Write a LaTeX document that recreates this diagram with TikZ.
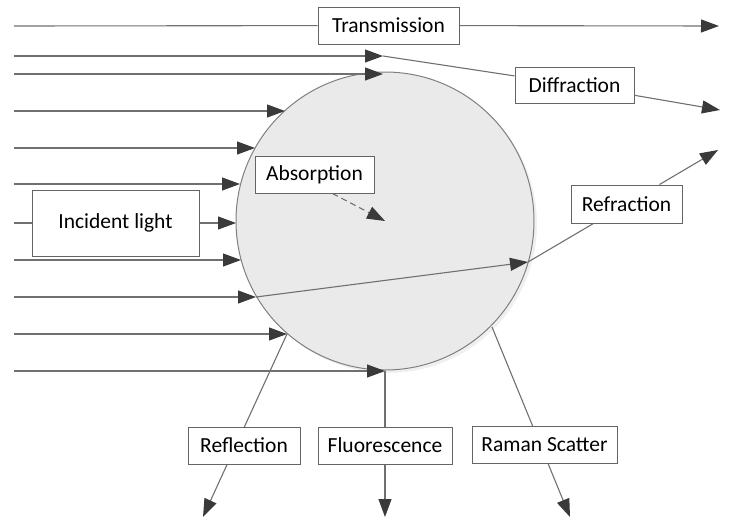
\documentclass[tikz,border=0pt]{standalone}
\usepackage{fontspec}
\setmainfont{Carlito}
\usetikzlibrary{arrows.meta}

\pgfdeclarelayer{back}
\pgfdeclarelayer{rays}
\pgfsetlayers{back,rays,main}

\definecolor{raygray}{RGB}{112,112,112}
\definecolor{tipgray}{RGB}{58,58,58}
\definecolor{dropgray}{RGB}{234,234,234}
\definecolor{edgegray}{RGB}{128,128,128}
\definecolor{boxgray}{RGB}{100,100,100}

\tikzset{
  ray/.style={draw=raygray, line width=1.1pt},
  rayhead/.style={ray, -{Triangle[length=18pt,width=13pt,color=tipgray]}},
  labelbox/.style={draw=boxgray, line width=1pt, fill=white, inner sep=0pt,
    minimum height=37pt, font=\fontsize{21.5}{25}\selectfont},
}

\begin{document}
\begin{tikzpicture}[x=1pt, y=-1pt]
          \useasboundingbox (0,0) rectangle (732,531);

          \begin{pgfonlayer}{back}
            \fill[black!6] (388,224) circle [radius=149];
            \node[circle, draw=edgegray, line width=1pt, fill=dropgray,
              minimum size=298pt, inner sep=0pt] (drop) at (385,221) {};
          \end{pgfonlayer}

          \node[labelbox, minimum width=141pt] (trans) at (388.5,25.5) {Transmission};
          \node[labelbox, minimum width=119pt, minimum height=36pt] (diff) at (574.5,85) {Diffraction};
          \node[labelbox, minimum width=111pt, minimum height=38pt] (refr) at (626.5,204) {Refraction};
          \node[labelbox, minimum width=119pt] (absn) at (314.5,174.5) {Absorption};
          \node[labelbox, minimum width=167pt, minimum height=66pt] (inc) at (115.5,223) {Incident light};
          \node[labelbox, minimum width=112pt] (refl) at (244,445.5) {Reflection};
          \node[labelbox, minimum width=134pt] (fluo) at (385,445.5) {Fluorescence};
          \node[labelbox, minimum width=145pt] (raman) at (544.5,445) {Raman Scatter};

          \coordinate (src0) at (14,26);
          \coordinate (out0) at (719,26);
          \coordinate (srcI) at (14,223);
          \coordinate (hitI) at (236,223);
          \coordinate (outD) at (720,110);
          \coordinate (exitR) at (528,262);
          \coordinate (outR) at (718,150);
          \coordinate (outL) at (203,517);
          \coordinate (outF) at (385,517);
          \coordinate (ramanin) at (492,327);
          \coordinate (outS) at (570,517);

          \begin{pgfonlayer}{rays}
            \foreach \y/\x [count=\i] in {56/383,74/383,111/285,148/255,184/240,260/241,297/256,334/287,371/385}{
              \coordinate (src\i) at (14,\y);
              \coordinate (hit\i) at (\x,\y);
              \draw[rayhead] (src\i) -- (hit\i);
            }

            \draw[ray] (src0) -- (trans);
            \draw[rayhead] (trans) -- (out0);
            \draw[ray] (srcI) -- (inc);
            \draw[rayhead] (inc) -- (hitI);

            \draw[ray] (hit1) -- (diff);
            \draw[rayhead] (diff) -- (outD);

            \draw[rayhead] (hit7) -- (exitR);
            \draw[ray] (exitR) -- (refr);
            \draw[rayhead] (refr) -- (outR);

            \draw[rayhead] (hit8) -- (outL);
            \draw[ray] (hit9) -- (fluo);
            \draw[rayhead] (fluo) -- (outF);
            \draw[rayhead] (ramanin) -- (outS);

            \draw[rayhead, dash pattern=on 6pt off 4pt] ([xshift=18pt]absn.south) -- (drop.center);
          \end{pgfonlayer}
        \end{tikzpicture}
\end{document}
